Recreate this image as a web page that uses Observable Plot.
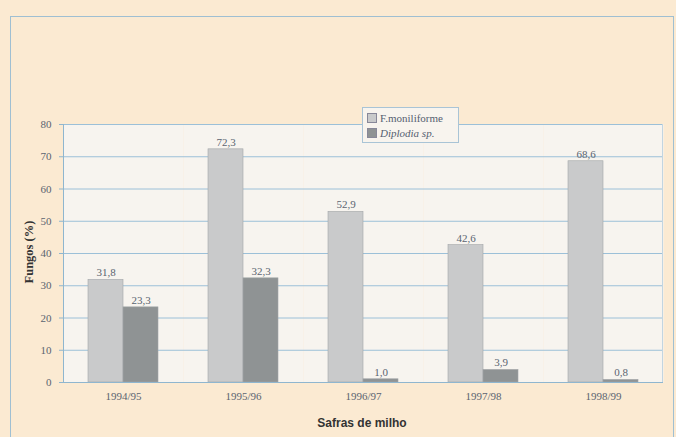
<!DOCTYPE html>
<html>
<head>
<meta charset="utf-8">
<script src="https://cdn.jsdelivr.net/npm/d3@7"></script>
<script src="https://cdn.jsdelivr.net/npm/@observablehq/plot@0.6"></script>
<style>
  html, body { margin: 0; padding: 0; background: #fdfcf9; }
  #wrap { position: relative; width: 676px; height: 437px; overflow: hidden; background: #fbead2; }
  #border { position: absolute; left: 10px; top: 16px; width: 664px; height: 430px; border: 1px solid #9fbfd2; box-sizing: border-box; }
  #chart { position: absolute; left: 0; top: 0; }
  #legend { position: absolute; left: 362px; top: 107px; width: 97px; height: 36px; border: 1px solid #a9c4d6;
            background: #f8f4ee; font-family: "Liberation Serif", serif; font-size: 11px; color: #556070; box-sizing: border-box; padding: 2px 4px; }
  #legend .row { display: flex; align-items: center; height: 15px; }
  #legend .sw { width: 8px; height: 8px; margin-right: 3px; border: 1px solid #889; }
</style>
</head>
<body>
<div id="wrap">
  <div id="border"></div>
  <div id="chart"></div>
  <div id="legend"></div>
</div>
<script>
const safras = ["1994/95", "1995/96", "1996/97", "1997/98", "1998/99"];
const series = ["F.moniliforme", "Diplodia sp."];
const moniliforme = [31.8, 72.3, 52.9, 42.6, 68.6];
const diplodia = [23.3, 32.3, 1.0, 3.9, 0.8];
const yTicks = [0, 10, 20, 30, 40, 50, 60, 70, 80];
const colors = ["#c9cacb", "#8f9394"];

const data = [];
safras.forEach((s, i) => {
  data.push({safra: s, serie: series[0], v: moniliforme[i]});
  data.push({safra: s, serie: series[1], v: diplodia[i]});
});
const fmt = v => v.toFixed(1).replace(".", ",");

const plot = Plot.plot({
  width: 676,
  height: 437,
  marginLeft: 63,
  marginRight: 13,
  marginTop: 124,
  marginBottom: 55,
  style: {background: "transparent", fontFamily: "Liberation Serif, serif", fontSize: "11px", color: "#5a6470"},
  fx: {domain: safras, padding: 0, label: null, axis: "bottom", tickSize: 0, tickPadding: 10},
  x: {domain: series, paddingInner: 0, paddingOuter: 0.71, axis: null},
  y: {domain: [0, 80], ticks: yTicks, label: null},
  color: {domain: series, range: colors},
  marks: [
    Plot.frame({fill: "#f7f4ef", stroke: "none"}),
    Plot.gridY(yTicks, {stroke: "#9cc0d8", strokeOpacity: 1, strokeWidth: 1}),
    Plot.axisY({ticks: yTicks, tickSize: 4, stroke: "#8fb6cf", fontSize: 11, fill: "#5a6470", tickPadding: 8}),
    Plot.barY(data, {
      fx: "safra",
      x: "serie",
      y: "v",
      fill: "serie",
      stroke: "#a2a6a8",
      strokeWidth: 0.6
    }),
    Plot.text(data, {
      fx: "safra",
      x: "serie",
      y: "v",
      text: d => fmt(d.v),
      dy: -7,
      fill: "#5a6470",
      fontSize: 11
    }),
    Plot.ruleY([0], {stroke: "#8fb6cf"})
  ]
});
document.getElementById("chart").appendChild(plot);

const svg = d3.select(plot);
// plot-area left axis line and right border
svg.append("line").attr("x1", 63.5).attr("x2", 63.5).attr("y1", 124).attr("y2", 382)
  .attr("stroke", "#8fb6cf");
svg.append("line").attr("x1", 662.5).attr("x2", 662.5).attr("y1", 124).attr("y2", 382)
  .attr("stroke", "#c2d5e1");
svg.append("text")
  .attr("x", 362).attr("y", 427)
  .attr("text-anchor", "middle")
  .attr("font-family", "Liberation Sans, Arial, sans-serif")
  .attr("font-weight", "bold").attr("font-size", 12)
  .attr("fill", "#333")
  .text("Safras de milho");
svg.append("text")
  .attr("transform", "translate(33,252) rotate(-90)")
  .attr("text-anchor", "middle")
  .attr("font-family", "Liberation Serif, serif")
  .attr("font-weight", "bold").attr("font-size", 12.5)
  .attr("fill", "#333")
  .text("Fungos (%)");

const legend = d3.select("#legend");
series.forEach((s, i) => {
  const row = legend.append("div").attr("class", "row");
  row.append("div").attr("class", "sw").style("background", colors[i]);
  row.append("span").style("font-style", i === 1 ? "italic" : "normal").text(s);
});
</script>
</body>
</html>
